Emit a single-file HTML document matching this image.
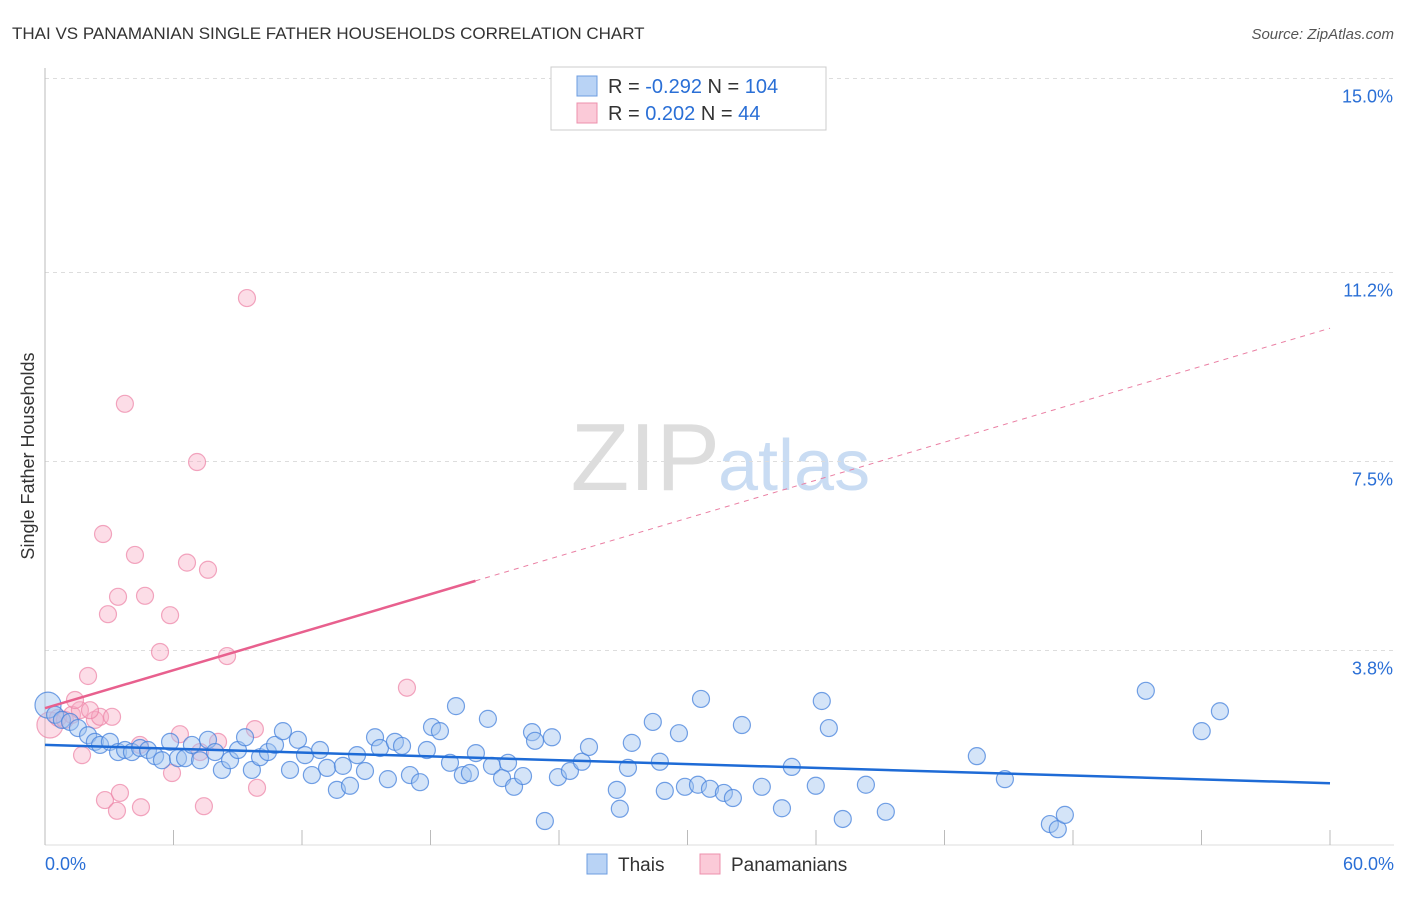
<!DOCTYPE html>
<html><head><meta charset="utf-8"><style>
body{margin:0;background:#fff;font-family:"Liberation Sans",sans-serif}
svg text{font-family:"Liberation Sans",sans-serif}
</style></head><body>
<svg width="1406" height="892" xmlns="http://www.w3.org/2000/svg">
<text x="12" y="39" font-size="17" fill="#333">THAI VS PANAMANIAN SINGLE FATHER HOUSEHOLDS CORRELATION CHART</text>
<text x="1394" y="39" font-size="15" fill="#555" font-style="italic" text-anchor="end">Source: ZipAtlas.com</text>
<text x="720" y="490" font-size="96" fill="#ddd" font-family="Liberation Serif" text-anchor="end">ZIP</text>
<text x="718" y="490" font-size="72" fill="#c9dcf3">atlas</text>
<g id="grid"></g>
<g id="axes"></g>
<g id="marks"></g>
<text transform="translate(34,456) rotate(-90)" font-size="18" fill="#333" text-anchor="middle">Single Father Households</text>
<g>
<rect x="551" y="67" width="275" height="63" fill="#fff" stroke="#ccc"/>
<rect x="577" y="76" width="20" height="20" fill="#b9d3f5" stroke="#6d9de0"/>
<rect x="577" y="103" width="20" height="20" fill="#fbcad8" stroke="#ec90ad"/>
<text x="608" y="93" font-size="20" fill="#333">R = <tspan fill="#2a6fd6">-0.292</tspan>   N = <tspan fill="#2a6fd6">104</tspan></text>
<text x="608" y="120" font-size="20" fill="#333">R =  <tspan fill="#2a6fd6">0.202</tspan>   N =  <tspan fill="#2a6fd6"> 44</tspan></text>
</g>
<g>
<rect x="587" y="854" width="20" height="20" fill="#b9d3f5" stroke="#6d9de0"/>
<text x="618" y="871" font-size="19" fill="#333">Thais</text>
<rect x="700" y="854" width="20" height="20" fill="#fbcad8" stroke="#ec90ad"/>
<text x="731" y="871" font-size="19" fill="#333">Panamanians</text>
</g>
</svg>
<script>
const yTicks=[15.0,11.2,7.5,3.8];
const yTickLabels=["15.0%","11.2%","7.5%","3.8%"];
const xTickVals=[0,6,12,18,24,30,36,42,48,54,60];
const xEndLabels=["0.0%","60.0%"];
const thaiX=[0.14,0.47,0.79,1.17,1.54,2.01,2.33,2.57,3.03,3.41,3.74,4.06,4.44,4.81,5.14,5.46,5.84,6.21,6.54,6.86,7.24,7.61,7.94,8.26,8.64,9.01,9.34,9.66,10.04,10.41,10.74,11.11,11.44,11.81,12.14,12.46,12.84,13.17,13.63,13.91,14.24,14.57,14.94,15.41,15.64,16.01,16.34,16.67,17.04,17.51,17.83,18.07,18.44,18.91,19.19,19.51,19.84,20.12,20.68,20.87,21.34,21.62,21.90,22.32,22.74,22.88,23.34,23.67,23.95,24.51,25.07,25.40,26.70,26.84,27.22,27.40,28.38,28.71,28.94,29.60,29.88,30.49,30.63,31.05,31.70,32.12,32.54,33.47,34.41,34.87,35.99,36.27,36.60,37.25,38.33,39.26,43.51,44.82,46.92,47.29,47.62,51.40,54.01,54.86];
const thaiY=[2.73,2.54,2.44,2.40,2.28,2.14,2.01,1.95,2.01,1.81,1.85,1.81,1.89,1.85,1.73,1.65,2.01,1.69,1.69,1.95,1.65,2.05,1.81,1.46,1.65,1.85,2.10,1.46,1.71,1.81,1.95,2.22,1.46,2.05,1.75,1.36,1.85,1.50,1.07,1.54,1.15,1.75,1.44,2.10,1.89,1.28,2.01,1.93,1.36,1.22,1.85,2.30,2.22,1.60,2.71,1.36,1.40,1.79,2.46,1.54,1.30,1.60,1.13,1.34,2.20,2.03,0.46,2.10,1.32,1.44,1.62,1.91,1.07,0.70,1.50,1.99,2.40,1.62,1.05,2.18,1.13,1.17,2.85,1.09,1.01,0.91,2.34,1.13,0.71,1.52,1.15,2.81,2.28,0.50,1.17,0.64,1.73,1.28,0.40,0.30,0.58,3.01,2.22,2.61];
const panX=[0.23,0.61,0.93,1.26,1.63,1.40,2.01,1.73,2.33,2.57,2.71,2.94,3.13,2.80,3.36,3.50,3.73,4.20,4.48,4.67,3.41,5.37,5.84,5.93,6.30,6.63,7.10,7.42,7.61,8.08,8.50,9.43,9.80,9.90,16.90,4.43,7.24,2.10];
const panY=[2.34,2.48,2.44,2.54,2.63,2.83,3.30,1.75,2.44,2.50,6.08,4.51,2.50,0.87,0.66,1.01,8.63,5.67,0.73,4.87,4.85,3.77,4.49,1.40,2.16,5.52,7.49,0.75,5.38,2.01,3.69,10.70,2.26,1.11,3.07,1.95,1.81,2.63];
const thaiTrend=[1.95,1.20];
const panTrend=[2.67,10.11];
const panSolidEnd=20.1;

const NS="http://www.w3.org/2000/svg";
const X=v=>45+v*(1285/60);
const Y=v=>844.5-v*(191.5/3.75);
function mk(tag,attrs,parent){const e=document.createElementNS(NS,tag);for(const k in attrs)e.setAttribute(k,attrs[k]);document.getElementById(parent).appendChild(e);return e;}
yTicks.forEach((t,i)=>{
 const g=mk('line',{x1:45,x2:1394,y1:Y(t),y2:Y(t),stroke:'#ddd','stroke-dasharray':'4,4'},'grid');
 
 
 const tx=mk('text',{x:1393,y:Y(t)+24,'font-size':18,fill:'#2a6fd6','text-anchor':'end'},'grid');
 tx.textContent=yTickLabels[i];
 
 
});
const ax=mk('line',{x1:45,x2:45,y1:68,y2:845,stroke:'#bbb'},'axes');


const bx=mk('line',{x1:45,x2:1394,y1:845,y2:845,stroke:'#ddd'},'axes');


xTickVals.forEach(v=>{
 const t=mk('line',{x1:X(v),x2:X(v),y1:830,y2:845,stroke:'#bbb'},'axes');
 
 
});
[[0,'start',45],[60,'end',1394]].forEach((a,i)=>{
 const t=mk('text',{x:a[2],y:870,'font-size':18,fill:'#2a6fd6','text-anchor':a[1]},'axes');
 t.textContent=xEndLabels[i];
 
 
});
panX.forEach((x,i)=>{
 const c=mk('circle',{cx:X(x),cy:Y(panY[i]),r:i===0?13:8.5,fill:'rgba(248,170,195,0.4)',stroke:'rgba(236,130,165,0.7)','stroke-width':1.2},'marks');
 
 
});
thaiX.forEach((x,i)=>{
 const c=mk('circle',{cx:X(x),cy:Y(thaiY[i]),r:i===0?13:8.5,fill:'rgba(160,195,240,0.45)',stroke:'rgba(70,130,220,0.75)','stroke-width':1.2},'marks');
 
 
});
const ps=panTrend[0]+(panTrend[1]-panTrend[0])*panSolidEnd/60;
const pd=mk('line',{x1:X(panSolidEnd),y1:Y(ps),x2:X(60),y2:Y(panTrend[1]),stroke:'#ea7fa3','stroke-width':1,'stroke-dasharray':'5,5'},'marks');


const pl=mk('line',{x1:X(0),y1:Y(panTrend[0]),x2:X(panSolidEnd),y2:Y(ps),stroke:'#e8608e','stroke-width':2.5},'marks');


const tl=mk('line',{x1:X(0),y1:Y(thaiTrend[0]),x2:X(60),y2:Y(thaiTrend[1]),stroke:'#1e6bd6','stroke-width':2.5},'marks');


</script>
</body></html>
